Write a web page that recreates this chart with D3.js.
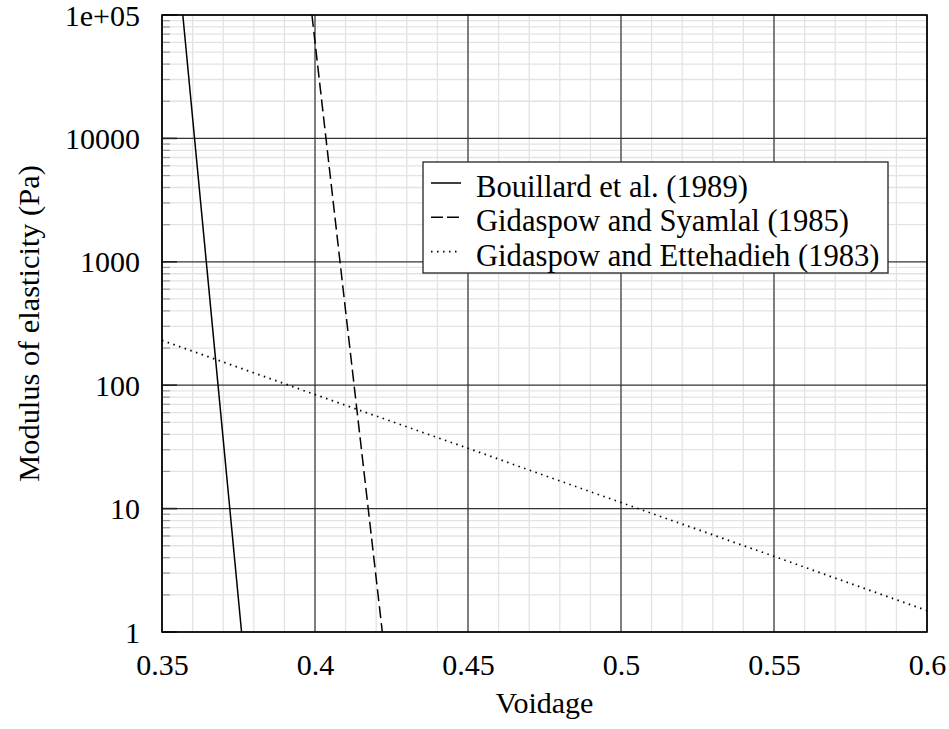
<!DOCTYPE html>
<html>
<head>
<meta charset="utf-8">
<script src="https://cdn.jsdelivr.net/npm/d3@7"></script>
<style>
  html, body { margin: 0; padding: 0; background: #fff; }
</style>
</head>
<body>
<svg id="chart" width="949" height="729"></svg>
<script>
// Modulus of elasticity vs voidage for three correlations (log y axis)
const xTicks = [0.35, 0.4, 0.45, 0.5, 0.55, 0.6];
const yTicks = [1, 10, 100, 1000, 10000, 100000];
const yTickLabels = ["1", "10", "100", "1000", "10000", "1e+05"];

const seriesNames = [
  "Bouillard et al. (1989)",
  "Gidaspow and Syamlal (1985)",
  "Gidaspow and Ettehadieh (1983)"
];
const seriesDash = ["none", "12,5", "1.5,4.5"];

// [voidage, modulus (Pa)] pairs
const bouillardPts = [[0.3568, 100000], [0.366, 400], [0.376, 1]];
const syamlalPts   = [[0.399, 100000], [0.41, 400], [0.422, 1]];
const ettehadiehPts = [[0.35, 231], [0.4, 84], [0.45, 30.8], [0.5, 11.2], [0.55, 4.1], [0.6, 1.49]];
const seriesData = [bouillardPts, syamlalPts, ettehadiehPts];

const FONT = "Liberation Serif";
const svg = d3.select("#chart");
const plotL = 162, plotR = 927, plotT = 15, plotB = 632;

const x = d3.scaleLinear().domain([0.35, 0.6]).range([plotL, plotR]);
const y = d3.scaleLog().domain([1, 100000]).range([plotB, plotT]);

// minor grid
const xMinor = d3.range(0.35, 0.6001, 0.01).map(v => +v.toFixed(3));
const yMinor = [];
for (let d = 1; d < 100000; d *= 10) for (let k = 2; k <= 9; k++) yMinor.push(d * k);

const grid = svg.append("g");
grid.selectAll(".xm").data(xMinor).join("line")
  .attr("x1", d => x(d)).attr("x2", d => x(d))
  .attr("y1", plotT).attr("y2", plotB)
  .attr("stroke", "#e3e3e3").attr("stroke-width", 1.3);
grid.selectAll(".ym").data(yMinor).join("line")
  .attr("x1", plotL).attr("x2", plotR)
  .attr("y1", d => y(d)).attr("y2", d => y(d))
  .attr("stroke", "#e3e3e3").attr("stroke-width", 1.3);

// major grid
grid.selectAll(".xM").data(xTicks).join("line")
  .attr("x1", d => x(d)).attr("x2", d => x(d))
  .attr("y1", plotT).attr("y2", plotB)
  .attr("stroke", "#333").attr("stroke-width", 1.2);
grid.selectAll(".yM").data(yTicks).join("line")
  .attr("x1", plotL).attr("x2", plotR)
  .attr("y1", d => y(d)).attr("y2", d => y(d))
  .attr("stroke", "#333").attr("stroke-width", 1.2);

// left-side inward ticks
grid.selectAll(".ymt").data(yMinor).join("line")
  .attr("x1", plotL).attr("x2", plotL + 8)
  .attr("y1", d => y(d)).attr("y2", d => y(d))
  .attr("stroke", "#999").attr("stroke-width", 1.2);
grid.selectAll(".yMt").data(yTicks).join("line")
  .attr("x1", plotL).attr("x2", plotL + 15)
  .attr("y1", d => y(d)).attr("y2", d => y(d))
  .attr("stroke", "#222").attr("stroke-width", 1.6);

// curves
svg.append("defs").append("clipPath").attr("id", "plotclip")
  .append("rect").attr("x", plotL).attr("y", plotT)
  .attr("width", plotR - plotL).attr("height", plotB - plotT);

const line = d3.line().x(d => x(d[0])).y(d => y(d[1]));
svg.append("g").attr("clip-path", "url(#plotclip)")
  .selectAll("path").data(seriesData).join("path")
  .attr("d", line)
  .attr("fill", "none").attr("stroke", "#000")
  .attr("stroke-width", (d, i) => i === 2 ? 1.7 : 1.5)
  .attr("stroke-dasharray", (d, i) => seriesDash[i]);

// frame
svg.append("rect").attr("x", plotL).attr("y", plotT)
  .attr("width", plotR - plotL).attr("height", plotB - plotT)
  .attr("fill", "none").attr("stroke", "#000").attr("stroke-width", 1.6);

// tick labels
const xAxis = d3.axisBottom(x).tickValues(xTicks).tickSize(0).tickPadding(0)
  .tickFormat(d3.format("~g"));
const gx = svg.append("g").attr("transform", `translate(0,${plotB})`).call(xAxis)
  .attr("font-family", FONT).attr("font-size", 30);
gx.select(".domain").remove();
gx.selectAll("text").attr("font-family", FONT).attr("font-size", 30).attr("fill", "#000")
  .attr("y", 43).attr("dy", null);

const yAxis = d3.axisLeft(y).tickValues(yTicks).tickSize(0).tickPadding(22)
  .tickFormat((d, i) => yTickLabels[i]);
const gy = svg.append("g").attr("transform", `translate(${plotL},0)`).call(yAxis)
  .attr("font-family", FONT).attr("font-size", 30);
gy.select(".domain").remove();
gy.selectAll("text").attr("font-family", FONT).attr("font-size", 30).attr("fill", "#000")
  .attr("dy", null).attr("y", 10);

// axis titles
svg.append("text").attr("x", (plotL + plotR) / 2).attr("y", 713)
  .attr("text-anchor", "middle").attr("font-family", FONT).attr("font-size", 30)
  .text("Voidage");
svg.append("text")
  .attr("transform", `translate(39,${(plotT + plotB) / 2}) rotate(-90)`)
  .attr("text-anchor", "middle").attr("font-family", FONT).attr("font-size", 30.4)
  .text("Modulus of elasticity (Pa)");

// legend
const lg = svg.append("g");
lg.append("rect").attr("x", 423).attr("y", 162).attr("width", 465).attr("height", 111)
  .attr("fill", "#fff").attr("stroke", "#333").attr("stroke-width", 1.4);
const rows = lg.selectAll("g.row").data(seriesNames).join("g")
  .attr("transform", (d, i) => `translate(0,${197 + i * 34.3})`);
rows.append("line").attr("x1", 431).attr("x2", 461).attr("y1", -14).attr("y2", -14)
  .attr("stroke", "#000").attr("stroke-width", (d, i) => i === 2 ? 1.7 : 1.5)
  .attr("stroke-dasharray", (d, i) => i === 1 ? "12,4" : seriesDash[i]);
rows.append("text").attr("x", 476).attr("y", 0)
  .attr("font-family", FONT).attr("font-size", 30.6).text(d => d);
</script>
</body>
</html>
